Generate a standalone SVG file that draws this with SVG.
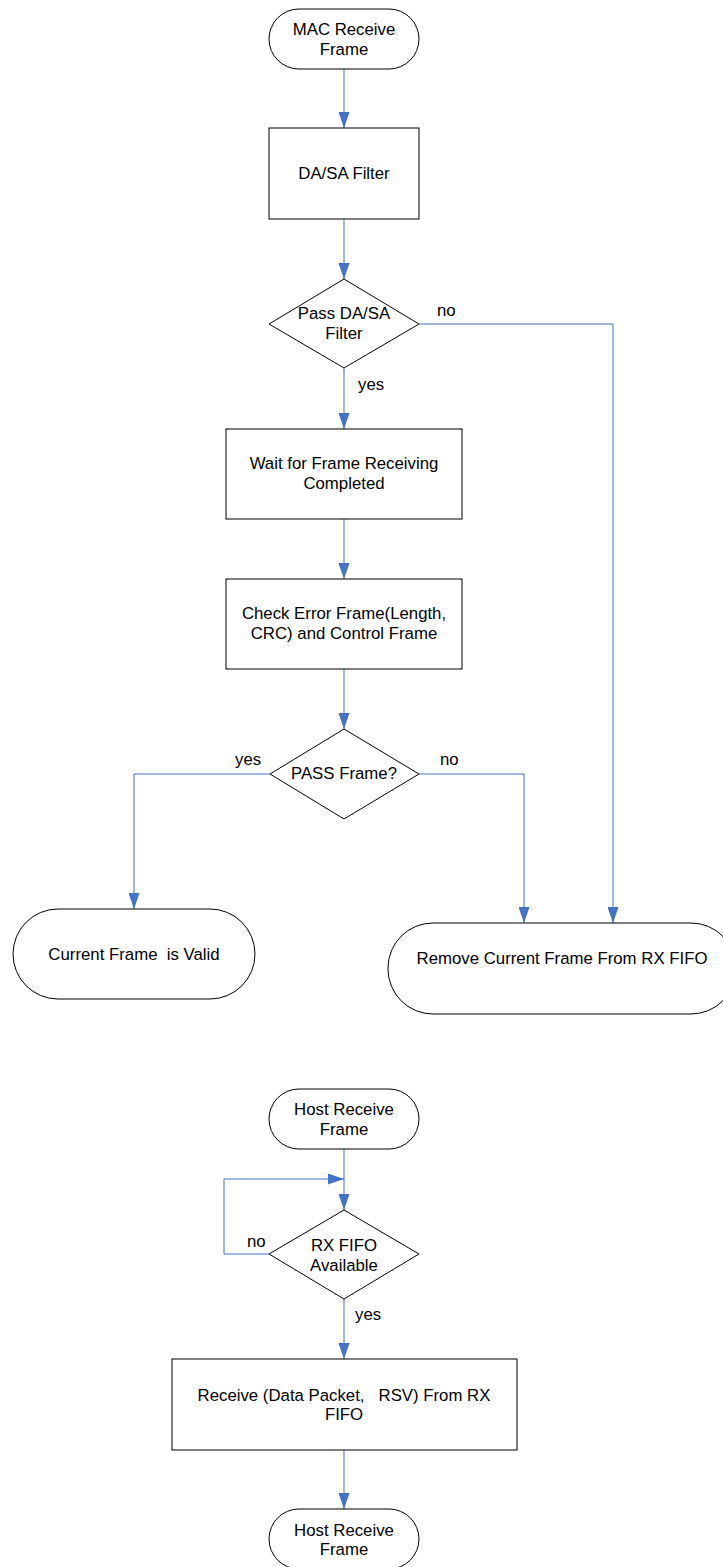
<svg xmlns="http://www.w3.org/2000/svg" width="723" height="1567" viewBox="0 0 723 1567">
<defs>
<marker id="arr" markerUnits="userSpaceOnUse" markerWidth="16" markerHeight="11" refX="16" refY="5.5" orient="auto">
<path d="M0,0 L16,5.5 L0,11 z" fill="#4472C4"/>
</marker>
<style>
.s{fill:#fff;stroke:#000;stroke-width:1}
.t{font-family:"Liberation Sans",Arial,sans-serif;font-size:16.8px;fill:#000;text-anchor:middle;white-space:pre}
.l{font-family:"Liberation Sans",Arial,sans-serif;font-size:16.8px;fill:#000;white-space:pre}
.c{fill:none;stroke:#4472C4;stroke-width:1}
</style>
</defs>
<rect width="723" height="1567" fill="#fff"/>
<g id="connectors">
<path class="c" d="M344,69 V128" marker-end="url(#arr)"/>
<path class="c" d="M344,219 V279" marker-end="url(#arr)"/>
<path class="c" d="M419,324 H613 V923" marker-end="url(#arr)"/>
<path class="c" d="M344,368 V429" marker-end="url(#arr)"/>
<path class="c" d="M344,519 V579" marker-end="url(#arr)"/>
<path class="c" d="M344,669 V729" marker-end="url(#arr)"/>
<path class="c" d="M270,774 H134 V909" marker-end="url(#arr)"/>
<path class="c" d="M419,774 H524 V923" marker-end="url(#arr)"/>
<path class="c" d="M344,1149 V1210" marker-end="url(#arr)"/>
<path class="c" d="M269,1254 H224 V1179 H344" marker-end="url(#arr)"/>
<path class="c" d="M344,1299 V1359" marker-end="url(#arr)"/>
<path class="c" d="M344,1450 V1509" marker-end="url(#arr)"/>
<text class="l" x="437" y="316">no</text>
<text class="l" x="358" y="390">yes</text>
<text class="l" x="235" y="765">yes</text>
<text class="l" x="440" y="765">no</text>
<text class="l" x="247" y="1247">no</text>
<text class="l" x="355" y="1320">yes</text>
</g>
<g id="mac_receive_frame">
<rect class="s" x="269" y="9" width="150" height="60" rx="30"/>
<text class="t" x="344" y="35">MAC Receive</text>
<text class="t" x="344" y="55">Frame</text>
</g>
<g id="dasa_filter">
<rect class="s" x="269" y="128" width="150" height="91"/>
<text class="t" x="344" y="179">DA/SA Filter</text>
</g>
<g id="pass_dasa">
<polygon class="s" points="344,279 419,324 344,368 269,324"/>
<text class="t" x="344" y="319">Pass DA/SA</text>
<text class="t" x="344" y="339">Filter</text>
</g>
<g id="wait_frame">
<rect class="s" x="226" y="429" width="236" height="90"/>
<text class="t" x="344" y="469">Wait for Frame Receiving</text>
<text class="t" x="344" y="489">Completed</text>
</g>
<g id="check_error">
<rect class="s" x="226" y="579" width="236" height="90"/>
<text class="t" x="344" y="619">Check Error Frame(Length,</text>
<text class="t" x="344" y="639">CRC) and Control Frame</text>
</g>
<g id="pass_frame">
<polygon class="s" points="344,729 419,774 344,819 270,774"/>
<text class="t" x="344" y="779">PASS Frame?</text>
</g>
<g id="current_valid">
<rect class="s" x="13" y="909" width="242" height="90" rx="45"/>
<text class="t" x="134" y="960">Current Frame  is Valid</text>
</g>
<g id="remove_frame">
<rect class="s" x="388" y="923" width="348" height="91" rx="45"/>
<text class="t" x="562" y="964">Remove Current Frame From RX FIFO</text>
</g>
<g id="host_receive_1">
<rect class="s" x="269" y="1089" width="150" height="60" rx="30"/>
<text class="t" x="344" y="1115">Host Receive</text>
<text class="t" x="344" y="1135">Frame</text>
</g>
<g id="rx_fifo_available">
<polygon class="s" points="344,1210 419,1254 344,1299 269,1254"/>
<text class="t" x="344" y="1251">RX FIFO</text>
<text class="t" x="344" y="1271">Available</text>
</g>
<g id="receive_data">
<rect class="s" x="172" y="1359" width="345" height="91"/>
<text class="t" x="344" y="1401">Receive (Data Packet,   RSV) From RX</text>
<text class="t" x="344" y="1420">FIFO</text>
</g>
<g id="host_receive_2">
<rect class="s" x="269" y="1509" width="150" height="60" rx="30"/>
<text class="t" x="344" y="1536">Host Receive</text>
<text class="t" x="344" y="1555">Frame</text>
</g>
</svg>
